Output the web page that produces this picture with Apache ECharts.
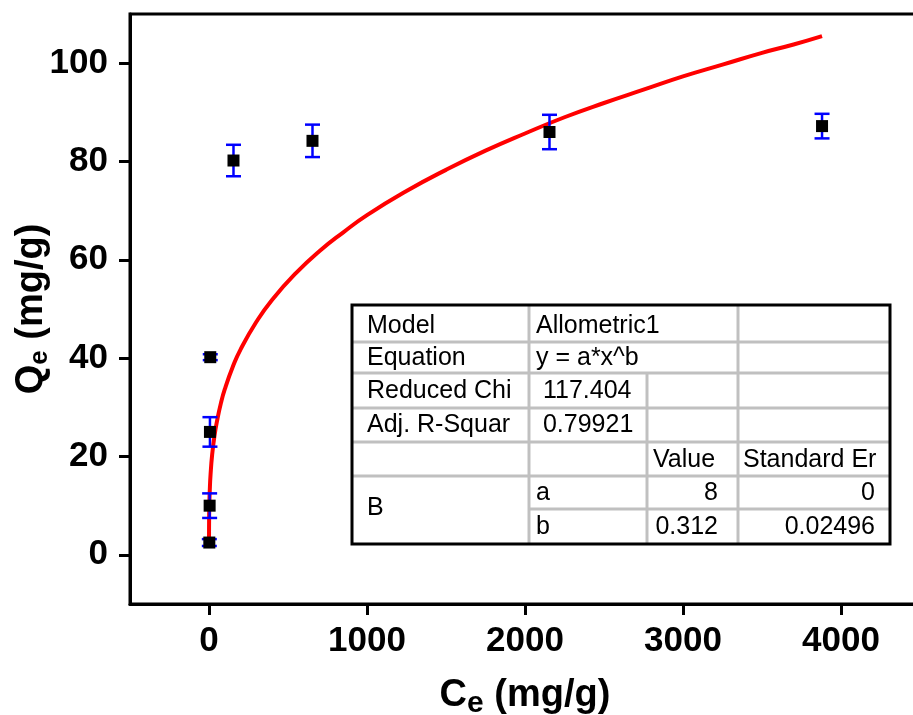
<!DOCTYPE html>
<html>
<head>
<meta charset="utf-8">
<script src="https://cdn.jsdelivr.net/npm/echarts@6/dist/echarts.min.js"></script>
<style>
html,body{margin:0;padding:0;background:#fff;}
#chart{width:913px;height:715px;}
</style>
</head>
<body>
<div id="chart"></div>
<script>
// Measured data (Ce, Qe) with error bars
const ceValues = [2, 4, 6, 8, 155, 655, 2155, 3880];
const qeValues = [2.5, 10, 25, 40.2, 80.2, 84.2, 86.0, 87.2];
const qeErrors = [0.7, 2.5, 3.0, 0.6, 3.2, 3.3, 3.5, 2.5];

// Fitted curve (Allometric1)
const curveX = [0.01, 0.05, 0.2, 0.5, 1, 2, 5, 10, 20, 35, 50, 75, 100, 150, 200, 300, 400, 550, 700, 850, 1000, 1250, 1500, 1750, 2000, 2250, 2500, 2750, 3000, 3250, 3500, 3700, 3880];
const curveY = [1.9, 3.1, 4.8, 6.4, 8.0, 9.9, 13.2, 16.4, 20.4, 24.3, 27.1, 30.8, 33.7, 38.2, 41.8, 47.4, 51.9, 57.3, 61.8, 65.6, 69.1, 74.0, 78.3, 82.2, 85.7, 89.0, 91.9, 94.6, 97.3, 99.7, 102.1, 103.8, 105.5];

// Axis ticks
const xTicks = [0, 1000, 2000, 3000, 4000];
const yTicks = [0, 20, 40, 60, 80, 100];

// Fit table text
const tableRows = [
  ['Model', 'Allometric1', '', ''],
  ['Equation', 'y = a*x^b', '', ''],
  ['Reduced Chi', ' 117.404', '', ''],
  ['Adj. R-Squar', ' 0.79921', '', ''],
  ['', '', 'Value', 'Standard Er'],
  ['B', 'a', '8', '0'],
  ['', 'b', '0.312', '0.02496']
];

const chart = echarts.init(document.getElementById('chart'));
const FONT = 'Liberation Sans, Arial, sans-serif';

// table geometry
const cx = [352, 529, 647, 738, 890];
const ry = [305, 342, 373, 408, 442, 476, 509, 544];
const gray = '#c0c0c0';
const graphics = [];
function gline(x1, y1, x2, y2) {
  graphics.push({type: 'line', shape: {x1, y1, x2, y2}, style: {stroke: gray, lineWidth: 3}, z: 100});
}
graphics.push({type: 'rect', shape: {x: cx[0], y: ry[0], width: cx[4] - cx[0], height: ry[7] - ry[0]}, style: {fill: '#fff', stroke: null}, z: 99});
for (let i = 1; i <= 5; i++) gline(cx[0], ry[i], cx[4], ry[i]);
gline(cx[1], ry[6], cx[4], ry[6]);
gline(cx[1], ry[0], cx[1], ry[7]);
gline(cx[2], ry[2], cx[2], ry[7]);
gline(cx[3], ry[0], cx[3], ry[7]);
graphics.push({type: 'rect', shape: {x: cx[0], y: ry[0], width: cx[4] - cx[0], height: ry[7] - ry[0]}, style: {fill: null, stroke: '#000', lineWidth: 3}, z: 102});
function gtext(t, x, y, align) {
  graphics.push({type: 'text', x, y, style: {text: t, font: '25px ' + FONT, fill: '#000', textAlign: align || 'left', textVerticalAlign: 'middle'}, z: 103});
}
const rowMid = [326, 358, 391, 425, 460, 493, 527];
tableRows.forEach((r, i) => {
  if (r[0]) {
    const y = r[0] === 'B' ? 508 : rowMid[i];
    gtext(r[0], cx[0] + 15, y);
  }
  if (r[1]) gtext(r[1], cx[1] + 7, rowMid[i]);
  if (r[2]) {
    if (i === 4) gtext(r[2], cx[2] + 6, rowMid[i]);
    else gtext(r[2], cx[3] - 20, rowMid[i], 'right');
  }
  if (r[3]) {
    if (i === 4) gtext(r[3], cx[3] + 5, rowMid[i]);
    else gtext(r[3], cx[4] - 15, rowMid[i], 'right');
  }
});

const option = {
  animation: false,
  backgroundColor: '#fff',
  grid: {left: 130, top: 14, right: -7, bottom: 111, containLabel: false, outerBoundsMode: 'none',
    show: true, borderColor: '#000', borderWidth: 3, backgroundColor: 'transparent'},
  xAxis: {
    type: 'value', min: -500, max: 4500,
    name: '{a|C}{b|e}{a| (mg/g)}', nameLocation: 'middle', nameGap: 69, nameMoveOverlap: false,
    nameTextStyle: {rich: {
      a: {fontFamily: FONT, fontWeight: 'bold', fontSize: 38, color: '#000'},
      b: {fontFamily: FONT, fontWeight: 'bold', fontSize: 30, color: '#000', padding: [16, 0, 0, 0]}
    }},
    axisLine: {onZero: false, lineStyle: {color: '#000', width: 3}},
    axisTick: {show: true, inside: false, length: 11, lineStyle: {width: 3, color: '#000'}, customValues: xTicks},
    axisLabel: {customValues: xTicks, formatter: v => String(v), fontFamily: FONT, fontWeight: 'bold', fontSize: 35, color: '#000', margin: 20},
    splitLine: {show: false}
  },
  yAxis: {
    type: 'value', min: -10, max: 110,
    name: '{a|Q}{b|e}{a| (mg/g)}', nameLocation: 'middle', nameGap: 77, nameRotate: 90, nameMoveOverlap: false,
    nameTextStyle: {rich: {
      a: {fontFamily: FONT, fontWeight: 'bold', fontSize: 38, color: '#000'},
      b: {fontFamily: FONT, fontWeight: 'bold', fontSize: 26, color: '#000', padding: [16, 0, 0, 0]}
    }},
    axisLine: {onZero: false, lineStyle: {color: '#000', width: 3}},
    axisTick: {show: true, inside: false, length: 11, lineStyle: {width: 3, color: '#000'}, customValues: yTicks},
    axisLabel: {customValues: yTicks, formatter: v => String(v), fontFamily: FONT, fontWeight: 'bold', fontSize: 35, color: '#000', margin: 22},
    splitLine: {show: false}
  },
  series: [
    {
      type: 'line', name: 'fit', smooth: true, showSymbol: false, z: 3,
      data: curveX.map((x, i) => [x, curveY[i]]),
      lineStyle: {color: '#ff0000', width: 4}
    },
    {
      type: 'custom', name: 'err', z: 4,
      data: ceValues.map((x, i) => [x, qeValues[i] - qeErrors[i], qeValues[i] + qeErrors[i]]),
      renderItem: function (params, api) {
        const lo = api.coord([api.value(0), api.value(1)]);
        const hi = api.coord([api.value(0), api.value(2)]);
        const hw = 7.5;
        const st = {stroke: '#0000ff', lineWidth: 2.5};
        return {type: 'group', children: [
          {type: 'line', shape: {x1: lo[0], y1: lo[1], x2: hi[0], y2: hi[1]}, style: st},
          {type: 'line', shape: {x1: lo[0] - hw, y1: lo[1], x2: lo[0] + hw, y2: lo[1]}, style: st},
          {type: 'line', shape: {x1: hi[0] - hw, y1: hi[1], x2: hi[0] + hw, y2: hi[1]}, style: st}
        ]};
      }
    },
    {
      type: 'scatter', name: 'data', z: 5,
      symbol: 'rect', symbolSize: 12,
      itemStyle: {color: '#000', opacity: 1},
      data: ceValues.map((x, i) => [x, qeValues[i]])
    }
  ],
  graphic: graphics
};
chart.setOption(option);
</script>
</body>
</html>
